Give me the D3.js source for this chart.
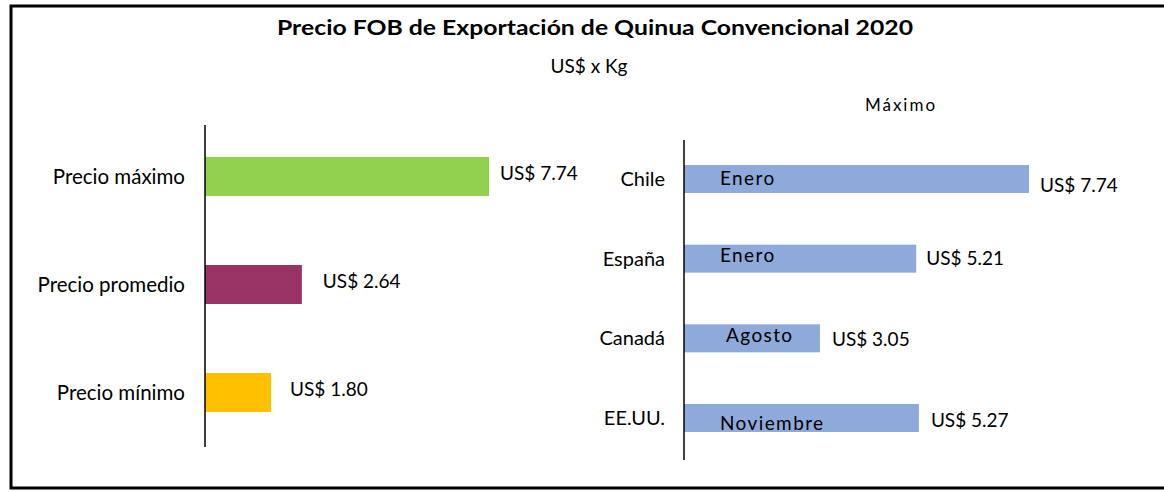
<!DOCTYPE html>
<html>
<head>
<meta charset="utf-8">
<script src="https://cdn.jsdelivr.net/npm/d3@7"></script>
<style>
  body { margin: 0; background: #fff; }
  text { font-family: Lato, "Open Sans", "Liberation Sans", sans-serif; fill: #000; }
</style>
</head>
<body>
<div class="chart"></div>
<script>
// left panel: summary prices
var resumenLabels = ["Precio máximo", "Precio promedio", "Precio mínimo"];
var resumenValues = [7.74, 2.64, 1.80];
var resumenColors = ["#92d050", "#993366", "#ffc000"];

// right panel: maximum price by destination
var paises = ["Chile", "España", "Canadá", "EE.UU."];
var paisValues = [7.74, 5.21, 3.05, 5.27];
var paisMeses = ["Enero", "Enero", "Agosto", "Noviembre"];

var W = 1164, H = 492;

var svg = d3.select(".chart").append("svg")
  .attr("width", W).attr("height", H);

// frame (right edge runs off the picture)
svg.append("rect")
  .attr("x", 11).attr("y", 6)
  .attr("width", W + 10).attr("height", 482)
  .attr("fill", "none").attr("stroke", "#000").attr("stroke-width", 3);

svg.append("text")
  .attr("x", 595).attr("y", 35)
  .attr("text-anchor", "middle")
  .style("font-size", "21px").style("font-weight", "bold")
  .attr("textLength", 636).attr("lengthAdjust", "spacingAndGlyphs")
  .text("Precio FOB de Exportación de Quinua Convencional 2020");

svg.append("text")
  .attr("x", 589).attr("y", 73)
  .attr("text-anchor", "middle")
  .style("font-size", "19px")
  .text("US$ x Kg");

svg.append("text")
  .attr("x", 901).attr("y", 111)
  .attr("text-anchor", "middle")
  .style("font-size", "17px").style("letter-spacing", "2px")
  .text("Máximo");

function fmt(v) { return "US$ " + v.toFixed(2); }

// ---- left panel
var x1 = d3.scaleLinear().domain([0, 7.74]).range([205, 489]);
var y1 = d3.scaleBand().domain(resumenLabels).range([125, 444]).paddingInner(0.639).paddingOuter(0.296);

var g1 = svg.append("g");
g1.selectAll("rect.bar").data(resumenValues).enter().append("rect")
  .attr("class", "bar")
  .attr("x", x1(0))
  .attr("y", function(d, i) { return y1(resumenLabels[i]); })
  .attr("width", function(d) { return x1(d) - x1(0); })
  .attr("height", y1.bandwidth())
  .attr("fill", function(d, i) { return resumenColors[i]; });

g1.selectAll("text.cat").data(resumenLabels).enter().append("text")
  .attr("class", "cat")
  .attr("x", 185)
  .attr("y", function(d) { return y1(d) + y1.bandwidth() / 2; })
  .attr("dy", "0.35em")
  .attr("text-anchor", "end")
  .style("font-size", "20.5px")
  .text(function(d) { return d; });

var gapL = [11, 21, 19];
g1.selectAll("text.val").data(resumenValues).enter().append("text")
  .attr("class", "val")
  .attr("x", function(d, i) { return x1(d) + gapL[i]; })
  .attr("y", function(d, i) { return y1(resumenLabels[i]) + y1.bandwidth() / 2 - 3; })
  .attr("dy", "0.35em")
  .style("font-size", "19px")
  .text(fmt);

g1.append("line")
  .attr("x1", 205).attr("x2", 205).attr("y1", 125).attr("y2", 447)
  .attr("stroke", "#000").attr("stroke-width", 1.5);

// ---- right panel
var x2 = d3.scaleLinear().domain([0, 7.74]).range([684, 1029]);
var y2 = d3.scaleBand().domain(paises).range([140, 457]).paddingInner(0.649).paddingOuter(0.314);

var g2 = svg.append("g");
g2.selectAll("rect.bar").data(paisValues).enter().append("rect")
  .attr("class", "bar")
  .attr("x", x2(0))
  .attr("y", function(d, i) { return y2(paises[i]); })
  .attr("width", function(d) { return x2(d) - x2(0); })
  .attr("height", y2.bandwidth())
  .attr("fill", "#8eaadb");

g2.selectAll("text.cat").data(paises).enter().append("text")
  .attr("class", "cat")
  .attr("x", 665)
  .attr("y", function(d) { return y2(d) + y2.bandwidth() / 2; })
  .attr("dy", "0.35em")
  .attr("text-anchor", "end")
  .style("font-size", "20px")
  .text(function(d) { return d; });

var valShift = [6, 0, 1, 2];
var gapR = [11, 10, 12, 12];
g2.selectAll("text.val").data(paisValues).enter().append("text")
  .attr("class", "val")
  .attr("x", function(d, i) { return x2(d) + gapR[i]; })
  .attr("y", function(d, i) { return y2(paises[i]) + y2.bandwidth() / 2 + valShift[i]; })
  .attr("dy", "0.35em")
  .style("font-size", "19px")
  .text(fmt);

var mesX = [720, 720, 726, 720];
var mesShift = [-1, -3, -3, 5];
g2.selectAll("text.mes").data(paisMeses).enter().append("text")
  .attr("class", "mes")
  .attr("x", function(d, i) { return mesX[i]; })
  .attr("y", function(d, i) { return y2(paises[i]) + y2.bandwidth() / 2 + mesShift[i]; })
  .attr("dy", "0.35em")
  .style("font-size", "19px").style("letter-spacing", "1.4px")
  .text(function(d) { return d; });

g2.append("line")
  .attr("x1", 684).attr("x2", 684).attr("y1", 140).attr("y2", 460)
  .attr("stroke", "#000").attr("stroke-width", 1.5);
</script>
</body>
</html>
